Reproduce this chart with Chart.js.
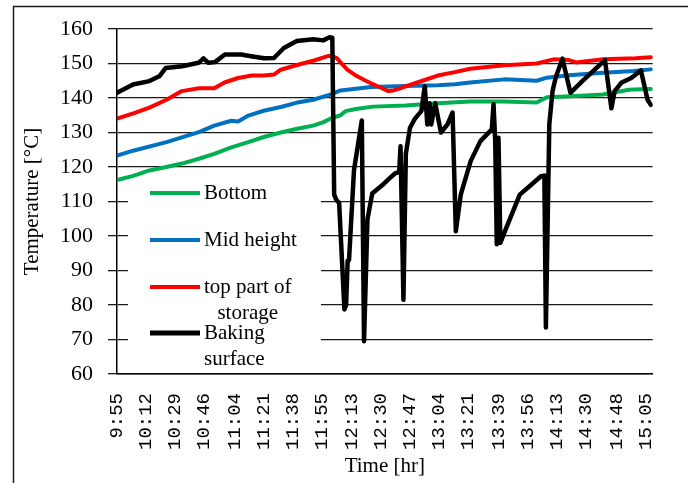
<!DOCTYPE html>
<html>
<head>
<meta charset="utf-8">
<script src="https://cdn.jsdelivr.net/npm/chart.js@4/dist/chart.umd.min.js"></script>
<style>
  html, body { margin: 0; padding: 0; background: #fff; }
  #c { display: block; }
</style>
</head>
<body>
<canvas id="c" width="688" height="483"></canvas>
<script>
// Clock labels shown under the time axis
const tickLabels = ['9:55','10:12','10:29','10:46','11:04','11:21','11:38','11:55','12:13',
  '12:30','12:47','13:04','13:21','13:39','13:56','14:13','14:30','14:48','15:05'];

// Legend text, one inner array per series (line breaks as printed)
const legendLabels = [['Bottom'], ['Mid height'], ['top part of', 'storage'], ['Baking', 'surface']];

// Storage bottom temperature: minutes after 9:55, °C
const bottomTime = [0, 10, 19, 29, 38, 48, 57, 67, 77, 86, 96, 105, 115, 121, 125, 131, 134, 140, 150,
  169, 188, 207, 227, 246, 252, 266, 285, 300, 311, 313];
const bottomTemp = [116.2, 117.5, 119.0, 120.0, 121.0, 122.4, 123.8, 125.7, 127.2, 128.7, 130.0, 131.0,
  132.0, 133.0, 134.0, 135.0, 136.2, 136.8, 137.5, 137.8, 138.5, 139.0, 139.0, 138.7, 140.2, 140.5,
  141.0, 142.4, 142.6, 142.6];

// Storage mid-height temperature
const midTime = [0, 10, 29, 48, 57, 67, 71, 77, 86, 96, 105, 115, 125, 131, 149, 169, 188, 198, 207,
  227, 246, 252, 265, 285, 303, 313];
const midTemp = [123.3, 124.8, 127.2, 130.1, 132.0, 133.4, 133.2, 134.9, 136.3, 137.4, 138.6, 139.5,
  141.0, 142.2, 143.2, 143.5, 143.7, 144.0, 144.5, 145.4, 145.0, 145.9, 146.6, 147.3, 147.8, 148.3];

// Top part of storage temperature
const topTime = [0, 10, 19, 29, 38, 48, 57, 63, 71, 79, 86, 92, 96, 105, 115, 124, 126, 129, 132, 135,
  140, 145, 150, 155, 159, 162, 166, 170, 179, 188, 198, 207, 227, 246, 256, 265, 269, 285, 304, 313];
const topTemp = [134.0, 135.6, 137.2, 139.5, 142.0, 142.8, 142.8, 144.5, 145.8, 146.5, 146.5, 146.8,
  148.2, 149.5, 150.8, 152.2, 152.2, 151.5, 149.8, 148.2, 146.5, 145.2, 144.0, 142.9, 142.0, 142.2,
  142.8, 143.5, 145.0, 146.5, 147.5, 148.5, 149.5, 150.0, 151.2, 151.0, 150.3, 151.2, 151.5, 151.8];

// Baking surface temperature
const bakingTime = [0, 9.4, 19, 24.8, 28.6, 38.2, 47.8, 50.7, 53.6, 57.4, 63.2, 72.8, 78.5, 86.3, 92,
  97.8, 105.4, 115.1, 120.8, 124.6, 126.2, 127.3, 128.5, 130.2, 133.3, 134.3, 135.2, 136, 138.9, 143.5,
  144.8, 146.8, 149.6, 155.4, 159.2, 163.1, 165.4, 166.2, 167.9, 169.3, 171.7, 174.6, 178.4, 180.4,
  181.9, 183.2, 184.2, 186.5, 189.9, 193.8, 196.7, 198.6, 201.5, 207.3, 213, 219.7, 220.7, 221.7,
  222.6, 223.6, 224.7, 227.4, 236.1, 241.8, 248.5, 250.5, 251.4, 253.4, 255.3, 257.2, 261.1, 265.8,
  272.6, 286, 289.8, 291.7, 295.6, 301.4, 307.1, 311, 312.9];
const bakingTemp = [141.5, 143.9, 144.9, 146.3, 148.7, 149.2, 150.2, 151.5, 150.2, 150.4, 152.6, 152.6,
  152.1, 151.5, 151.6, 154.5, 156.5, 157.0, 156.7, 157.6, 157.5, 112, 110.5, 109.6, 78.7, 80, 92.8, 93,
  119, 133.5, 69.5, 104.8, 112.3, 114.7, 116.5, 118.2, 118.5, 126, 81.5, 123.8, 131.3, 134, 136.2,
  143.4, 132.3, 138.5, 132.3, 138.5, 130, 132.4, 135.8, 101.4, 112, 121.7, 127.5, 130.9, 138.2, 127.5,
  97.6, 128.5, 98, 101.4, 112, 114.4, 117.3, 117.5, 73.5, 132.4, 142, 146, 151.4, 141.5, 144.8, 151,
  137, 142, 144.4, 145.8, 148, 139.5, 138];

// Tick positions in minutes after the first label
const toMinutes = s => { const [h, m] = s.split(':').map(Number); return h * 60 + m; };
const tickMinutes = tickLabels.map(s => toMinutes(s) - toMinutes(tickLabels[0]));

const pairs = (xs, ys) => xs.map((x, i) => ({ x: x, y: ys[i] }));

const colors = ['#00B050', '#0070C0', '#FF0000', '#000000'];
const serif = '"Liberation Serif", "Times New Roman", serif';

// White page, outer frame and in-plot legend
const framePlugin = {
  id: 'frame',
  beforeDraw(chart) {
    const ctx = chart.ctx;
    ctx.save();
    ctx.fillStyle = '#fff';
    ctx.fillRect(0, 0, chart.width, chart.height);
    ctx.strokeStyle = '#1a1a1a';
    ctx.lineWidth = 1.5;
    ctx.beginPath();
    ctx.moveTo(13.5, chart.height);
    ctx.lineTo(13.5, 6.5);
    ctx.lineTo(chart.width, 6.5);
    ctx.stroke();
    ctx.restore();
  }
};

const legendPlugin = {
  id: 'insideLegend',
  beforeDatasetsDraw(chart) {
    const ctx = chart.ctx;
    ctx.save();
    ctx.fillStyle = '#fff';
    ctx.fillRect(128, 177, 193, 196);
    ctx.font = '21px ' + serif;
    ctx.textBaseline = 'middle';
    ctx.textAlign = 'center';
    const rowY = [193, 240, 287, 333];
    const lineGap = 26;
    legendLabels.forEach((lines, i) => {
      const y = rowY[i];
      ctx.strokeStyle = colors[i];
      ctx.lineWidth = i === 3 ? 5 : 4;
      ctx.beginPath();
      ctx.moveTo(150, y);
      ctx.lineTo(200, y);
      ctx.stroke();
      const w = Math.max(...lines.map(t => ctx.measureText(t).width));
      ctx.fillStyle = '#000';
      lines.forEach((t, k) => ctx.fillText(t, 204 + w / 2, y + k * lineGap));
    });
    ctx.restore();
  }
};

new Chart(document.getElementById('c'), {
  type: 'line',
  data: {
    datasets: [
      { label: legendLabels[0].join(' '), data: pairs(bottomTime, bottomTemp), borderColor: colors[0], order: 3 },
      { label: legendLabels[1].join(' '), data: pairs(midTime, midTemp), borderColor: colors[1], order: 2 },
      { label: legendLabels[2].join(' '), data: pairs(topTime, topTemp), borderColor: colors[2], order: 1 },
      { label: legendLabels[3].join(' '), data: pairs(bakingTime, bakingTemp), borderColor: colors[3], order: 0, borderWidth: 4.5 }
    ]
  },
  options: {
    responsive: false,
    animation: false,
    events: [],
    layout: { padding: { left: 14, top: 29, right: 26, bottom: 0 } },
    elements: {
      point: { radius: 0 },
      line: { borderWidth: 4, tension: 0, borderJoinStyle: 'round', borderCapStyle: 'round', fill: false }
    },
    plugins: { legend: { display: false }, tooltip: { enabled: false } },
    scales: {
      x: {
        type: 'linear',
        min: 0,
        max: 314,
        afterFit(scale) { scale.height = 109; },
        afterBuildTicks(scale) { scale.ticks = tickMinutes.map(v => ({ value: v })); },
        grid: { display: false, drawTicks: false },
        border: { display: true, color: '#000', width: 1.5 },
        ticks: {
          autoSkip: false,
          minRotation: 90,
          maxRotation: 90,
          padding: 19,
          color: '#000',
          font: { family: '"Liberation Mono", "Courier New", monospace', size: 19 },
          callback: (value, index) => tickLabels[index]
        },
        title: {
          display: true,
          text: 'Time [hr]',
          color: '#000',
          font: { family: serif, size: 21 },
          padding: { top: 0, bottom: 4 }
        }
      },
      y: {
        min: 60,
        max: 160,
        afterFit(scale) { scale.width = 103; },
        grid: { color: '#1a1a1a', lineWidth: 1.3, tickLength: 9 },
        border: { display: true, color: '#000', width: 1.5 },
        ticks: {
          stepSize: 10,
          padding: 15,
          color: '#000',
          font: { family: serif, size: 22 }
        },
        title: {
          display: true,
          text: 'Temperature [°C]',
          color: '#000',
          font: { family: serif, size: 21 },
          padding: { top: 6, bottom: 0 }
        }
      }
    }
  },
  plugins: [framePlugin, legendPlugin]
});
</script>
</body>
</html>
